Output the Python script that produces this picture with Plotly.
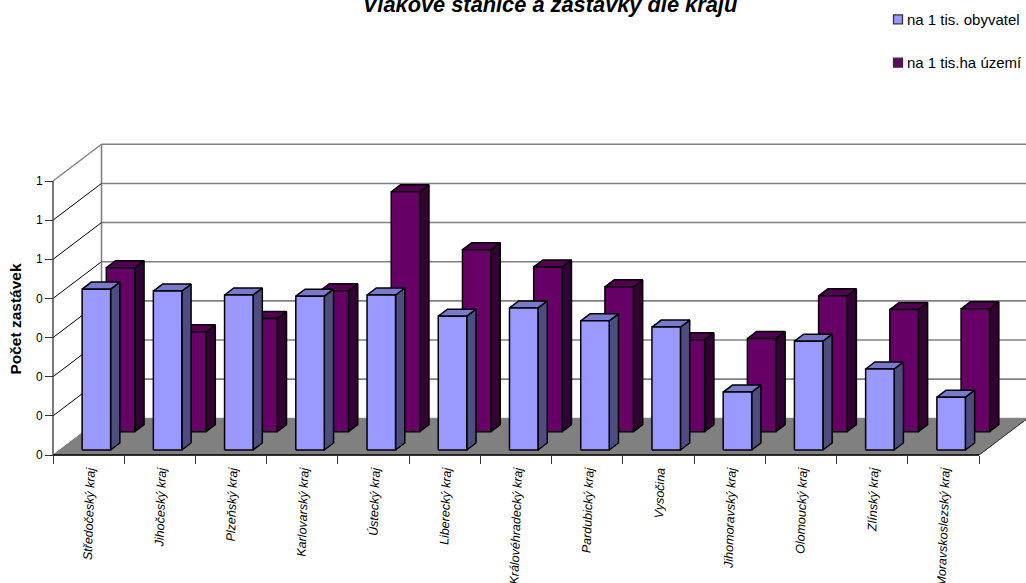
import plotly.graph_objects as go

# Rail stations and stops per region
title_text = "Vlakové stanice a zastávky dle krajů"
axis_title = "Počet zastávek"
regions = ["Středočeský kraj", "Jihočeský kraj", "Plzeňský kraj", "Karlovarský kraj",
           "Ústecký kraj", "Liberecký kraj", "Královéhradecký kraj", "Pardubický kraj",
           "Vysočina", "Jihomoravský kraj", "Olomoucký kraj", "Zlínský kraj",
           "Moravskoslezský kraj"]
series_names = ["na 1 tis. obyvatel", "na 1 tis.ha území"]
per_population = [0.411, 0.406, 0.396, 0.393, 0.396, 0.342, 0.363,
                  0.330, 0.314, 0.148, 0.278, 0.207, 0.135]
per_area = [0.419, 0.255, 0.289, 0.360, 0.613, 0.465, 0.421,
            0.370, 0.235, 0.238, 0.347, 0.312, 0.314]
value_ticks = [0, 0.1, 0.2, 0.3, 0.4, 0.5, 0.6, 0.7]
value_tick_labels = ["0", "0", "0", "0", "0", "1", "1", "1"]

# Oblique projection: how far one full unit of depth shifts a point
DEPTH_X = 0.681
DEPTH_Y = 0.0938
BAR_START = 0.316
BAR_WIDTH = 0.40
FONT = "Liberation Sans"

# Page layout in pixels; the plot box is centred on the axis title's position
WIDTH, HEIGHT = 1026, 583
AXIS_LEFT, AXIS_RIGHT, AXIS_TOP, AXIS_BOTTOM = 53, 979, 181, 455
PLOT_LEFT, PLOT_TOP, PLOT_BOTTOM = 43, 142, 496


def paper_x(px):
    return (px - PLOT_LEFT) / (WIDTH - PLOT_LEFT)


def paper_y(py):
    return (PLOT_BOTTOM - py) / (PLOT_BOTTOM - PLOT_TOP)


def project(x, y, z):
    return x + z * DEPTH_X, y + z * DEPTH_Y


def polygons(faces):
    """Join faces into one None-separated outline list."""
    xs, ys = [], []
    for face in faces:
        pts = [project(*p) for p in face]
        pts.append(pts[0])
        xs += [p[0] for p in pts] + [None]
        ys += [p[1] for p in pts] + [None]
    return xs, ys


def face_trace(faces, color, name):
    xs, ys = polygons(faces)
    return go.Scatter(x=xs, y=ys, mode="lines", fill="toself", fillcolor=color,
                      line=dict(color="#000000", width=1.5),
                      name=name, showlegend=False, hoverinfo="skip")


def line_trace(segments, color, width):
    xs, ys = [], []
    for a, b in segments:
        pa, pb = project(*a), project(*b)
        xs += [pa[0], pb[0], None]
        ys += [pa[1], pb[1], None]
    return go.Scatter(x=xs, y=ys, mode="lines", line=dict(color=color, width=width),
                      showlegend=False, hoverinfo="skip")


def bar_traces(values, z0, z1, colors, name):
    front, side, top = [], [], []
    for i, v in enumerate(values):
        x0, x1 = i + BAR_START, i + BAR_START + BAR_WIDTH
        front.append([(x0, 0, z0), (x1, 0, z0), (x1, v, z0), (x0, v, z0)])
        side.append([(x1, 0, z0), (x1, 0, z1), (x1, v, z1), (x1, v, z0)])
        top.append([(x0, v, z0), (x1, v, z0), (x1, v, z1), (x0, v, z1)])
    return [face_trace(side, colors[1], name),
            face_trace(top, colors[2], name),
            face_trace(front, colors[0], name)]


n = len(regions)
top_value = value_ticks[-1]
x_unit = (AXIS_RIGHT - AXIS_LEFT) / n
y_unit = (AXIS_BOTTOM - AXIS_TOP) / top_value
fig = go.Figure()

# Back wall and side wall grid
fig.add_trace(line_trace([((0, v, 1), (n, v, 1)) for v in value_ticks[1:]]
                         + [((0, 0, 1), (0, top_value, 1))], "#808080", 1.6))
fig.add_trace(line_trace([((0, v, 0), (0, v, 1)) for v in value_ticks[1:-1]], "#000000", 1))
fig.add_trace(line_trace([((0, top_value, 0), (0, top_value, 1))], "#808080", 1.4))

# Floor
floor_x, floor_y = polygons([[(0, 0, 0), (n, 0, 0), (n, 0, 1), (0, 0, 1)]])
fig.add_trace(go.Scatter(x=floor_x, y=floor_y, mode="lines", fill="toself",
                         fillcolor="#808080", line=dict(color="#808080", width=1),
                         showlegend=False, hoverinfo="skip"))
fig.add_trace(line_trace([((n, 0, 0), (n, 0, 1))], "#333333", 1))

# Axis lines stop at the last tick, so they are drawn apart from the axes
fig.add_trace(line_trace([((0, 0, 0), (n, 0, 0))], "#000000", 1.3))
fig.add_trace(line_trace([((0, 0, 0), (0, top_value, 0))], "#333333", 1.3))

# The rear row goes first so the front row covers it
for trace in bar_traces(per_area, 0.635, 0.826, ("#660066", "#330033", "#520052"), series_names[1]):
    fig.add_trace(trace)
for trace in bar_traces(per_population, 0.136, 0.327, ("#9999FF", "#4D4D80", "#7A7ACC"), series_names[0]):
    fig.add_trace(trace)

# Key in the top right corner
key_rows = [(series_names[0], "#9999FF", 19.3), (series_names[1], "#660066", 62.7)]
shapes, annotations = [], []
for label, color, row in key_rows:
    shapes.append(dict(type="rect", xref="paper", yref="paper",
                       x0=paper_x(893.5), x1=paper_x(902.5),
                       y0=paper_y(row + 4.5), y1=paper_y(row - 4.5),
                       fillcolor=color, line=dict(color="#333333", width=1.3)))
    annotations.append(dict(text=label, xref="paper", yref="paper", showarrow=False,
                            x=paper_x(905), y=paper_y(row),
                            xanchor="left", yanchor="middle",
                            font=dict(family=FONT, size=15, color="#000000")))

fig.update_layout(
    width=WIDTH, height=HEIGHT,
    margin=dict(l=PLOT_LEFT, r=0, t=PLOT_TOP, b=HEIGHT - PLOT_BOTTOM),
    paper_bgcolor="#ffffff", plot_bgcolor="#ffffff",
    showlegend=False,
    title=dict(text="<b><i>" + title_text + "</i></b>", x=550 / WIDTH, xanchor="center",
               xref="container", yref="container", y=1 - 4 / HEIGHT, yanchor="middle",
               font=dict(family=FONT, size=21.8, color="#000000")),
    shapes=shapes, annotations=annotations,
    xaxis=dict(range=[(PLOT_LEFT - AXIS_LEFT) / x_unit, (WIDTH - AXIS_LEFT) / x_unit],
               anchor="free", position=paper_y(AXIS_BOTTOM), automargin=False,
               tickmode="array",
               tickvals=[i + 0.5 for i in range(n)],
               ticktext=["<i>" + r + "</i>" for r in regions],
               tickangle=-88, tickfont=dict(family=FONT, size=12.5, color="#000000"),
               ticks="outside", ticklen=3, tickcolor="rgba(0,0,0,0)",
               minor=dict(tickmode="array", tickvals=list(range(n + 1)), ticks="outside",
                          ticklen=8, tickcolor="#333333", tickwidth=1),
               showline=False, showgrid=False, zeroline=False, fixedrange=True),
    yaxis=dict(range=[(AXIS_BOTTOM - PLOT_BOTTOM) / y_unit, (AXIS_BOTTOM - PLOT_TOP) / y_unit],
               anchor="free", position=paper_x(AXIS_LEFT), automargin=False,
               tickmode="array",
               tickvals=value_ticks, ticktext=value_tick_labels,
               tickfont=dict(family=FONT, size=12, color="#000000"),
               ticks="outside", ticklen=8, tickcolor="#333333",
               showline=False, showgrid=False, zeroline=False, fixedrange=True,
               title=dict(text="<b>" + axis_title + "</b>", standoff=9,
                          font=dict(family=FONT, size=15.5, color="#000000"))),
)

fig.write_html("out.html", config={"displayModeBar": False})
